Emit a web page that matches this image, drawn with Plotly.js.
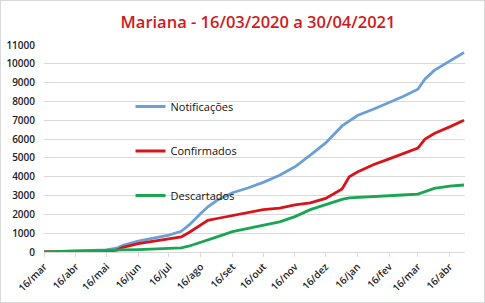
<!DOCTYPE html>
<html>
<head>
<meta charset="utf-8">
<script src="https://cdn.plot.ly/plotly-3.0.1.min.js"></script>
<style>
html,body{margin:0;padding:0;background:#fff;}
#chart{width:485px;height:303px;box-sizing:border-box;border:1px solid #d9d9d9;}
</style>
</head>
<body>
<div id="chart"></div>
<script>
const dates = ['2020-03-16','2020-04-01','2020-04-16','2020-05-01','2020-05-16','2020-05-26','2020-06-01','2020-06-16','2020-07-01','2020-07-16','2020-07-28','2020-08-05','2020-08-16','2020-08-23','2020-09-01','2020-09-16','2020-10-01','2020-10-16','2020-11-01','2020-11-16','2020-12-01','2020-12-16','2021-01-01','2021-01-08','2021-01-16','2021-02-01','2021-02-16','2021-03-01','2021-03-16','2021-03-23','2021-04-01','2021-04-16','2021-04-30'];
const notificacoes = [0,20,40,70,110,200,350,580,750,900,1100,1450,2050,2400,2750,3150,3400,3700,4080,4530,5150,5800,6700,6950,7250,7600,7950,8250,8650,9200,9650,10150,10600];
const confirmados = [0,5,10,20,40,100,250,450,570,700,800,1050,1450,1680,1780,1950,2100,2250,2330,2500,2610,2850,3350,4000,4250,4650,4950,5230,5520,6000,6300,6650,7000];
const descartados = [0,15,30,60,90,100,110,130,160,200,220,320,500,620,800,1080,1250,1400,1600,1880,2250,2520,2800,2880,2900,2930,2980,3030,3080,3200,3380,3500,3560];
const tickDates = ['2020-03-16','2020-04-16','2020-05-16','2020-06-16','2020-07-16','2020-08-16','2020-09-16','2020-10-16','2020-11-16','2020-12-16','2021-01-16','2021-02-16','2021-03-16','2021-04-16'];
const tickLabels = ['16/mar','16/abr','16/mai','16/jun','16/jul','16/ago','16/set','16/out','16/nov','16/dez','16/jan','16/fev','16/mar','16/abr'];
const yTicks = [0,1000,2000,3000,4000,5000,6000,7000,8000,9000,10000,11000];

const mk = (name, y, color, g) => ({
  x: dates, y: y, name: name, type: 'scatter', mode: 'lines', legendgroup: g,
  line: {color: color, width: 2.8}
});
const data = [
  mk('Notificações', notificacoes, '#6c9fd3', 'a'),
  mk('Confirmados', confirmados, '#d7141a', 'b'),
  mk('Descartados', descartados, '#1ba552', 'c')
];
const layout = {
  width: 485, height: 303,
  margin: {l: 43, r: 21, t: 44, b: 52},
  paper_bgcolor: 'rgba(0,0,0,0)', plot_bgcolor: '#fff',
  title: {text: 'Mariana - 16/03/2020 a 30/04/2021', x: 0.53, xanchor: 'center', y: 0.93, yanchor: 'middle',
    font: {family: 'Open Sans', size: 16.5, color: '#d01a1a', weight: 600}},
  font: {family: 'Open Sans', color: '#222'},
  xaxis: {type: 'date', range: ['2020-03-16', '2021-05-01'], tickvals: tickDates, ticktext: tickLabels,
    tickangle: -45, tickfont: {size: 10, color: '#222', weight: 600}, showgrid: false,
    showline: true, linecolor: '#d9d9d9', linewidth: 1, ticks: 'outside', ticklen: 4, tickcolor: '#d9d9d9', zeroline: false},
  yaxis: {range: [0, 11000], tickvals: yTicks, ticktext: yTicks.map(String), tickfont: {size: 10, color: '#222', weight: 600},
    gridcolor: '#d9d9d9', gridwidth: 1, zeroline: false, showline: false, ticks: '', ticklabelstandoff: 8},
  showlegend: true,
  legend: {x: 0.2055, y: 0.773, xanchor: 'left', yanchor: 'top', bgcolor: 'rgba(0,0,0,0)', traceorder: 'grouped',
    tracegroupgap: 25.5, font: {size: 11, color: '#111'}, itemwidth: 30}
};
Plotly.newPlot('chart', data, layout, {displayModeBar: false, staticPlot: true});
</script>
</body>
</html>
